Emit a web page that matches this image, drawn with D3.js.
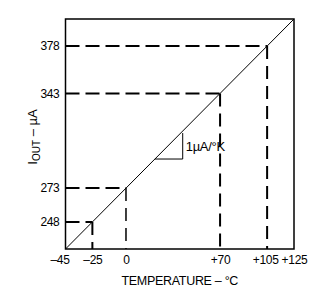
<!DOCTYPE html>
<html>
<head>
<meta charset="utf-8">
<script src="https://cdn.jsdelivr.net/npm/d3@7"></script>
<style>
  body { margin: 0; background: #fff; }
  svg { display: block; font-family: "Liberation Sans", Arial, sans-serif; }
</style>
</head>
<body>
<div id="chart"></div>
<script>
// Data: temperature (°C) vs output current (µA), 1µA/°K
var tempDomain = [-45, 125]
var currentDomain = [228, 398]
var xTicks = [-45, -25, 0, 70, 105, 125]
var xTickLabels = ['\u201345', '\u201325', '0', '+70', '+105', '+125']
var yTicks = [248, 273, 343, 378]
var markerTemps = [-25, 0, 70, 105]
var markerCurrents = [248, 273, 343, 378]
var slopeTemps = [21.5, 42.2]
var slopeCurrents = [294.5, 313.7]

var W = 326, H = 303
var margin = {top: 19, right: 32, bottom: 54, left: 65.5}
var width = W - margin.left - margin.right
var height = H - margin.top - margin.bottom

var x = d3.scaleLinear().domain(tempDomain).range([0, width])
var y = d3.scaleLinear().domain(currentDomain).range([height, 0])

var svg = d3.select('#chart').append('svg')
  .attr('width', W)
  .attr('height', H)

var g = svg.append('g')
  .attr('transform', 'translate(' + margin.left + ',' + margin.top + ')')

// dashed guide lines
var markers = markerTemps.map(function(t, i){ return {t: t, i: markerCurrents[i]} })

g.selectAll('.hguide')
  .data(markers)
  .enter().append('line')
    .attr('class', 'hguide')
    .attr('x1', 0)
    .attr('x2', function(d){ return x(d.t) })
    .attr('y1', function(d){ return y(d.i) })
    .attr('y2', function(d){ return y(d.i) })
    .style('stroke', '#000')
    .style('stroke-width', 2)
    .style('stroke-dasharray', '14,6')

g.selectAll('.vguide')
  .data(markers)
  .enter().append('line')
    .attr('class', 'vguide')
    .attr('x1', function(d){ return x(d.t) })
    .attr('x2', function(d){ return x(d.t) })
    .attr('y1', function(d){ return y(d.i) })
    .attr('y2', height)
    .style('stroke', '#000')
    .style('stroke-width', function(d){ return d.t == 0 ? 1.5 : 2 })
    .style('stroke-dasharray', '13,7')

// transfer line
var line = d3.line()
  .x(function(d){ return x(d[0]) })
  .y(function(d){ return y(d[1]) })

g.append('path')
  .attr('d', line([[tempDomain[0], currentDomain[0]], [tempDomain[1], currentDomain[1]]]))
  .style('fill', 'none')
  .style('stroke', '#000')
  .style('stroke-width', 1)

// slope marker
g.append('path')
  .attr('d', line([[slopeTemps[0], slopeCurrents[0]], [slopeTemps[1], slopeCurrents[0]], [slopeTemps[1], slopeCurrents[1]]]))
  .style('fill', 'none')
  .style('stroke', '#000')
  .style('stroke-width', 1)

g.append('text')
  .attr('x', x(slopeTemps[1]) + 3)
  .attr('y', y((slopeCurrents[0] + slopeCurrents[1]) / 2) + 5)
  .style('font-size', '13px')
  .style('letter-spacing', '-0.3px')
  .text('1\u00b5A/\u00b0K')

// frame
g.append('rect')
  .attr('width', width)
  .attr('height', height)
  .style('fill', 'none')
  .style('stroke', '#000')
  .style('stroke-width', 1.5)

// axes
var xAxis = d3.axisBottom(x)
  .tickValues(xTicks)
  .tickSize(0)
  .tickPadding(6)
  .tickFormat(function(d, i){ return xTickLabels[i] })

var gx = g.append('g')
  .attr('transform', 'translate(0,' + height + ')')
  .call(xAxis)
gx.select('.domain').remove()
gx.selectAll('text')
  .style('font-size', '12px')
  .style('letter-spacing', '-0.3px')
  .style('fill', '#000')
  .attr('dx', function(d){ return d == -45 ? -6 : (d == 105 ? -2 : 0) })

var yAxis = d3.axisLeft(y)
  .tickValues(yTicks)
  .tickSize(0)
  .tickPadding(6)

var gy = g.append('g').call(yAxis)
gy.select('.domain').remove()
gy.selectAll('text')
  .style('font-size', '12px')
  .style('letter-spacing', '-0.3px')
  .style('fill', '#000')

// axis titles
g.append('text')
  .attr('x', width / 2)
  .attr('y', height + 36)
  .attr('text-anchor', 'middle')
  .style('font-size', '12.5px')
  .style('letter-spacing', '-0.3px')
  .text('TEMPERATURE \u2013 \u00b0C')

var yl = g.append('text')
  .attr('transform', 'translate(' + (-29) + ',' + (height / 2 + 3) + ') rotate(-90)')
  .attr('text-anchor', 'middle')
  .style('font-size', '13px')
yl.append('tspan').text('I')
yl.append('tspan').attr('dy', 3).style('font-size', '10px').text('OUT')
yl.append('tspan').attr('dy', -3).text(' \u2013 \u00b5A')
</script>
</body>
</html>
